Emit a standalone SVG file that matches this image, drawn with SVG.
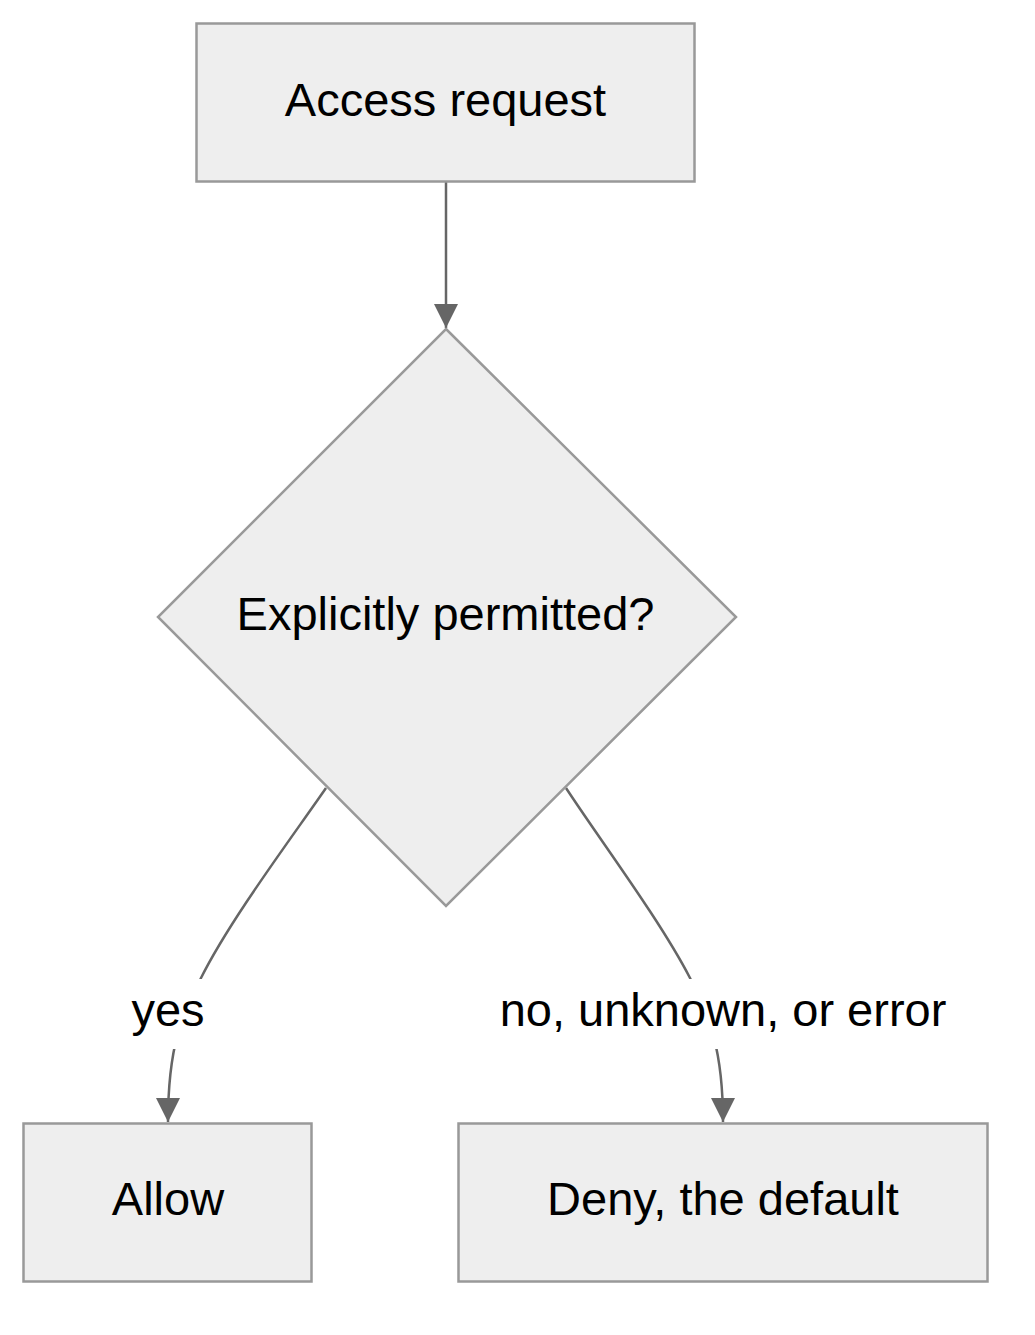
<svg xmlns="http://www.w3.org/2000/svg" width="1035" height="1335" viewBox="0 0 1035 1335">
<style>
.node{fill:#eeeeee;stroke:#999999;stroke-width:2.5}
.lbl{font-family:"Liberation Sans",Arial,sans-serif;font-size:47px;fill:#000;text-anchor:middle}
.edge{fill:none;stroke:#666666;stroke-width:2.5}
.lblbg{fill:#ffffff}
</style>
<defs>
<marker id="arrow" viewBox="0 0 10 10" refX="10" refY="5" markerUnits="userSpaceOnUse" markerWidth="24" markerHeight="24" orient="auto">
<path d="M0,0 L10,5 L0,10 z" fill="#666666"/>
</marker>
</defs>
<rect width="1035" height="1335" fill="#ffffff"/>
<g id="connectors">
<path class="edge" d="M446,182 L446,328" marker-end="url(#arrow)"/>
<path class="edge" d="M326,788 C290,840 230,920 201,978 C185,1010 168,1040 168,1122" marker-end="url(#arrow)"/>
<path class="edge" d="M566,788 C600,840 660,920 690,978 C705,1010 723,1040 723,1122" marker-end="url(#arrow)"/>
<g id="label-yes">
<rect class="lblbg" x="126" y="979" width="84" height="70"/>
<text class="lbl" x="168" y="1026">yes</text>
</g>
<g id="label-no">
<rect class="lblbg" x="494" y="979" width="458" height="70"/>
<text class="lbl" x="723" y="1026">no, unknown, or error</text>
</g>
</g>
<g id="node-access">
<rect class="node" x="196.5" y="23.5" width="498" height="158"/>
<text class="lbl" x="445.5" y="116">Access request</text>
</g>
<g id="node-decision">
<polygon class="node" points="446,329 736,617 446,906 158,617"/>
<text class="lbl" x="445.5" y="630">Explicitly permitted?</text>
</g>
<g id="node-allow">
<rect class="node" x="23.5" y="1123.5" width="288" height="158"/>
<text class="lbl" x="168" y="1215">Allow</text>
</g>
<g id="node-deny">
<rect class="node" x="458.5" y="1123.5" width="529" height="158"/>
<text class="lbl" x="723" y="1215">Deny, the default</text>
</g>
</svg>
